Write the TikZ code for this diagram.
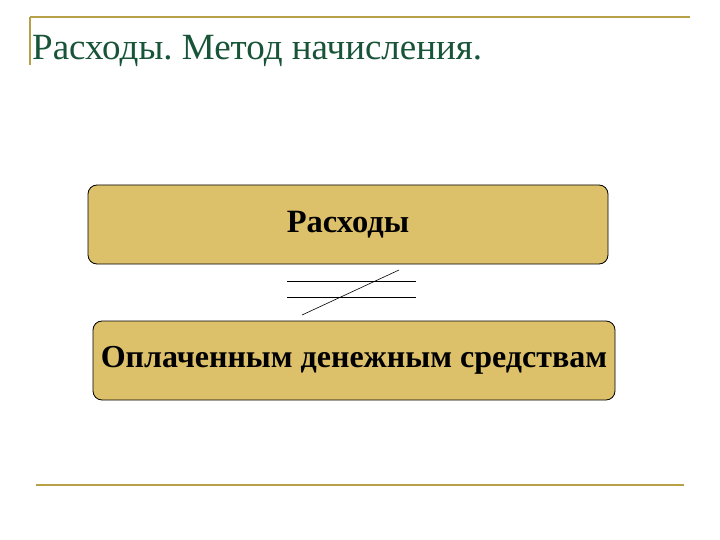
\documentclass[tikz,border=0pt]{standalone}
\usepackage{fontspec}
\setmainfont{Liberation Serif}
\frenchspacing
\definecolor{slideline}{RGB}{184,160,72}
\definecolor{titlegreen}{RGB}{24,84,56}
\definecolor{boxfill}{RGB}{220,192,106}
\tikzset{
  goldbox/.style = {draw = black, fill = boxfill, rounded corners = 9pt, line width = 0.8pt, minimum height = 79pt, inner sep = 0pt, font = \bfseries}
}
\begin{document}
\begin{tikzpicture}[x = 1pt, y = -1pt]
        \useasboundingbox[fill = white] (0, 0) rectangle (720, 540);
        
        % slide frame
        \draw[slideline, line width = 1.2pt] (30, 17) -- (690, 17);
        \draw[slideline, line width = 1.2pt] (30, 17) -- (30, 65);
        \draw[slideline, line width = 2pt] (36, 485) -- (684, 485);
        
        \node[anchor = base west, text = titlegreen, font = \fontsize{37}{40}\selectfont, inner sep = 0pt] (title) at (32, 60) {Расходы. Метод начисления.};
        
        \node[goldbox, minimum width = 520pt, font = \bfseries\fontsize{32.5}{34}\selectfont] (costs) at (348, 224.5) {Расходы};
        \node[goldbox, minimum width = 522pt, font = \bfseries\fontsize{32}{34}\selectfont] (paid) at (354, 360.5) {Оплаченным денежным средствам};
        
        % not-equal sign
        \draw[line width = 0.6pt] (287, 281) -- (416, 281);
        \draw[line width = 0.6pt] (287, 297) -- (416, 297);
        \draw[line width = 0.6pt] (302, 315) -- (399, 270);
      \end{tikzpicture}
\end{document}
